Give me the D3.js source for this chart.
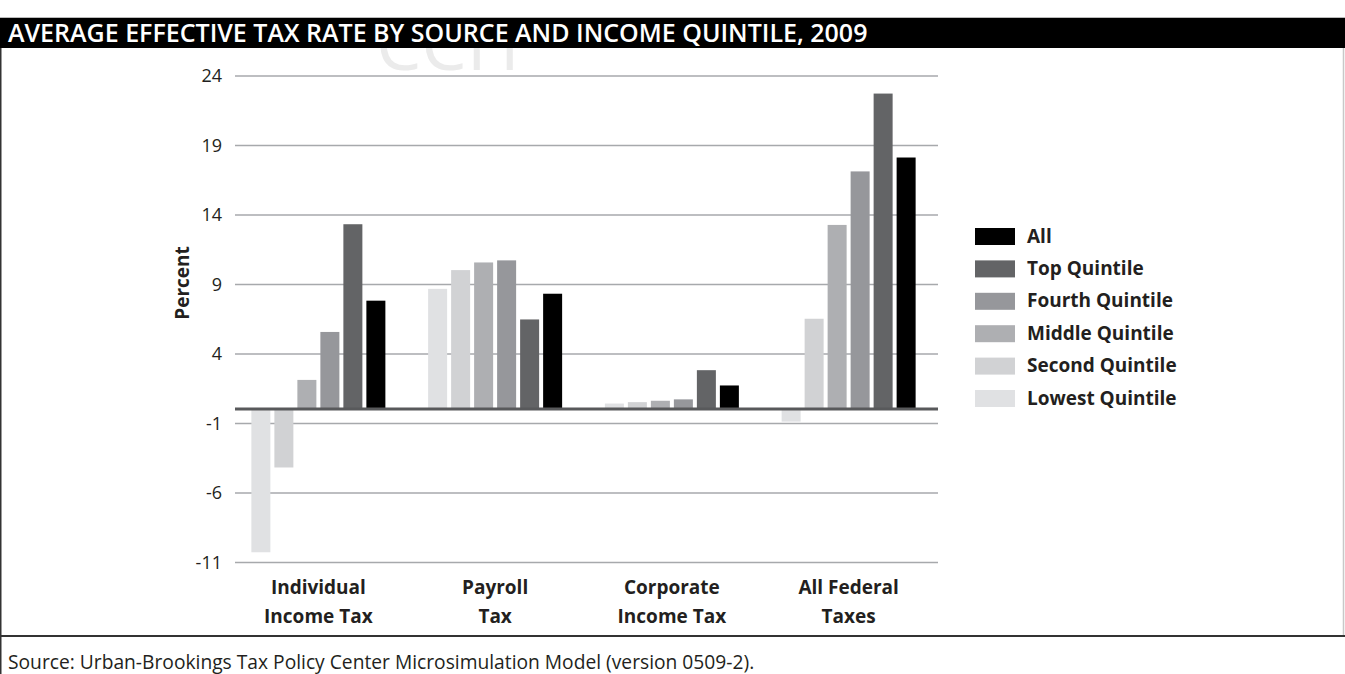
<!DOCTYPE html>
<html>
<head>
<meta charset="utf-8">
<script src="https://cdn.jsdelivr.net/npm/d3@7"></script>
<style>
  html, body { margin: 0; padding: 0; background: #fff; }
  svg { display: block; font-family: "Open Sans", "Noto Sans", sans-serif; }
</style>
</head>
<body>
<svg id="chart" width="1345" height="674"></svg>
<script>
// ---- Data ----
const categories = [["Individual", "Income Tax"], ["Payroll", "Tax"], ["Corporate", "Income Tax"], ["All Federal", "Taxes"]];
const seriesNames = ["Lowest Quintile", "Second Quintile", "Middle Quintile", "Fourth Quintile", "Top Quintile", "All"];
const lowestQ = [-10.3, 8.65, 0.4, -0.9];
const secondQ = [-4.2, 10.0, 0.5, 6.5];
const middleQ = [2.1, 10.55, 0.6, 13.25];
const fourthQ = [5.55, 10.7, 0.7, 17.1];
const topQ = [13.3, 6.45, 2.8, 22.7];
const allQ = [7.8, 8.3, 1.7, 18.1];
const yTicks = [-11, -6, -1, 4, 9, 14, 19, 24];
const titleText = "AVERAGE EFFECTIVE TAX RATE BY SOURCE AND INCOME QUINTILE, 2009";
const sourceText = "Source: Urban-Brookings Tax Policy Center Microsimulation Model (version 0509-2).";

const seriesValues = [lowestQ, secondQ, middleQ, fourthQ, topQ, allQ];
const colors = ["#e0e1e3", "#d1d2d4", "#aeafb2", "#96979b", "#636466", "#000000"];

const svg = d3.select("#chart");
const W = 1345, H = 674;

// watermark
svg.append("text").attr("x", 376).attr("y", 70)
  .attr("font-size", 72).attr("font-family", "Open Sans").attr("font-weight", 400)
  .attr("fill", "#ebebeb").text("CCH");

// title bar
svg.append("rect").attr("x", 0).attr("y", 18).attr("width", W).attr("height", 30).attr("fill", "#000");
svg.append("line").attr("x1", 0).attr("x2", W).attr("y1", 17.5).attr("y2", 17.5).attr("stroke", "#bbb");
const tt = svg.append("text").attr("x", 8).attr("y", 42)
  .attr("fill", "#fff").attr("font-weight", 600).attr("font-size", 20).text(titleText);
{
  const w = tt.node().getComputedTextLength();
  tt.attr("font-size", 20 * 860 / w);
}

// frame
svg.append("line").attr("x1", 0.75).attr("x2", 0.75).attr("y1", 48).attr("y2", H).attr("stroke", "#333").attr("stroke-width", 1.5);
svg.append("line").attr("x1", 1343.5).attr("x2", 1343.5).attr("y1", 48).attr("y2", 636).attr("stroke", "#c8c8c8").attr("stroke-width", 1.5);
svg.append("line").attr("x1", 0).attr("x2", W).attr("y1", 636).attr("y2", 636).attr("stroke", "#333").attr("stroke-width", 2);

// scales
const y = d3.scaleLinear().domain([-11, 24]).range([562, 75.5]);
const x0 = d3.scaleBand().domain(d3.range(categories.length)).range([230, 937]);
const x1 = d3.scaleBand().domain(d3.range(seriesNames.length)).range([0, 138]).paddingInner(0.174).paddingOuter(0.087);
const gridLeft = 235, gridRight = 938;

// grid lines via axis
const gridAxis = d3.axisLeft(y).tickValues(yTicks).tickSize(-(gridRight - gridLeft)).tickFormat("");
const gg = svg.append("g").attr("transform", `translate(${gridLeft},0)`).call(gridAxis);
gg.select(".domain").remove();
gg.selectAll(".tick line").attr("stroke", "#a7a9ac").attr("stroke-width", 1.6);

// y tick labels via axis
const yAxis = d3.axisLeft(y).tickValues(yTicks).tickSize(0).tickPadding(0).tickFormat(d => d);
const ya = svg.append("g").attr("transform", "translate(222,0)").call(yAxis);
ya.select(".domain").remove();
ya.selectAll("text").attr("font-size", 18).attr("fill", "#231f20").attr("font-family", "Open Sans").attr("dy", "0.35em");

// y label
svg.append("text").attr("transform", "translate(189,283) rotate(-90)")
  .attr("text-anchor", "middle").attr("font-weight", 700).attr("font-size", 19).attr("fill", "#231f20").text("Percent");

// bars
const groups = svg.append("g").selectAll("g").data(categories).join("g")
  .attr("transform", (d, i) => `translate(${x0(i) + x0.bandwidth() / 2 - 69},0)`);
groups.selectAll("rect").data((d, i) => seriesValues.map((s, j) => ({ v: s[i], j })))
  .join("rect")
  .attr("x", d => x1(d.j))
  .attr("width", x1.bandwidth())
  .attr("y", d => y(Math.max(0, d.v)))
  .attr("height", d => Math.abs(y(d.v) - y(0)))
  .attr("fill", d => colors[d.j]);

// zero line
svg.append("line").attr("x1", gridLeft).attr("x2", gridRight).attr("y1", y(0)).attr("y2", y(0))
  .attr("stroke", "#58595b").attr("stroke-width", 3);

// x labels
const xl = svg.append("g").selectAll("text").data(categories).join("text")
  .attr("text-anchor", "middle").attr("font-weight", 700).attr("font-size", 19).attr("fill", "#231f20");
xl.append("tspan").attr("y", 594).attr("x", (d, i) => x0(i) + x0.bandwidth() / 2).text(d => d[0]);
xl.append("tspan").attr("y", 623).attr("x", (d, i) => x0(i) + x0.bandwidth() / 2).text(d => d[1]);

// legend (All at top)
const legendOrder = d3.range(seriesNames.length).reverse();
const lg = svg.append("g").selectAll("g").data(legendOrder).join("g")
  .attr("transform", (d, k) => `translate(975,${236 + k * 32.4})`);
lg.append("rect").attr("x", 0).attr("y", -8).attr("width", 40).attr("height", 17).attr("fill", d => colors[d]);
lg.append("text").attr("x", 52).attr("y", 0).attr("dy", "0.35em")
  .attr("font-weight", 700).attr("font-size", 19).attr("fill", "#231f20").text(d => seriesNames[d]);

// source
const st = svg.append("text").attr("x", 8).attr("y", 669).attr("font-size", 15).attr("fill", "#231f20").text(sourceText);
{
  const w = st.node().getComputedTextLength();
  st.attr("font-size", 15 * 747 / w);
}
</script>
</body>
</html>
